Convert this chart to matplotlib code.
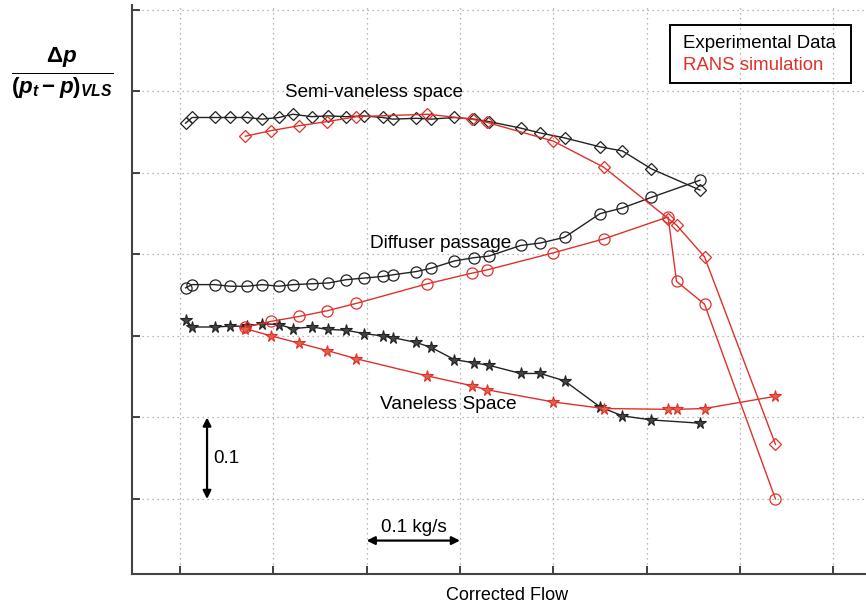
import matplotlib
matplotlib.use("Agg")
import matplotlib.pyplot as plt
from matplotlib.patches import Rectangle

# ---------------- data ----------------
exp_flow = [0.006, 0.013, 0.037, 0.054, 0.072, 0.088, 0.106, 0.121, 0.141, 0.159,
            0.178, 0.197, 0.217, 0.228, 0.253, 0.269, 0.294, 0.315, 0.331, 0.365,
            0.386, 0.412, 0.450, 0.474, 0.505, 0.557]
exp_semi = [0.461, 0.468, 0.468, 0.468, 0.468, 0.466, 0.468, 0.472, 0.469, 0.470,
            0.469, 0.470, 0.468, 0.466, 0.467, 0.466, 0.468, 0.466, 0.463, 0.455,
            0.449, 0.443, 0.432, 0.427, 0.405, 0.379]
exp_diff = [0.259, 0.263, 0.263, 0.261, 0.261, 0.263, 0.261, 0.263, 0.264, 0.265,
            0.269, 0.271, 0.273, 0.275, 0.279, 0.283, 0.292, 0.296, 0.298, 0.311,
            0.314, 0.321, 0.350, 0.357, 0.370, 0.391]
exp_vls = [0.220, 0.211, 0.211, 0.212, 0.212, 0.215, 0.214, 0.209, 0.211, 0.208,
           0.207, 0.203, 0.200, 0.198, 0.192, 0.186, 0.171, 0.167, 0.164, 0.154,
           0.154, 0.145, 0.113, 0.102, 0.097, 0.093]

rans_flow = [0.070, 0.098, 0.128, 0.158, 0.189, 0.265, 0.3125, 0.329, 0.400, 0.454,
             0.523, 0.532, 0.562, 0.638]
rans_semi = [0.445, 0.452, 0.458, 0.463, 0.469, 0.472, 0.466, 0.462, 0.439, 0.407,
             0.344, 0.336, 0.297, 0.067]
rans_diff = [0.211, 0.218, 0.224, 0.231, 0.240, 0.264, 0.277, 0.281, 0.302, 0.319,
             0.346, 0.267, 0.239, 0.000]
rans_vls = [0.209, 0.200, 0.191, 0.182, 0.172, 0.151, 0.139, 0.134, 0.119, 0.111,
            0.110, 0.110, 0.111, 0.126]

xticks = [0.0, 0.1, 0.2, 0.3, 0.4, 0.5, 0.6, 0.7]
yticks = [0.0, 0.1, 0.2, 0.3, 0.4, 0.5, 0.6]

# ---------------- style ----------------
plt.rcParams['font.family'] = ['Liberation Sans', 'DejaVu Sans']
plt.rcParams['mathtext.fontset'] = 'custom'
plt.rcParams['mathtext.it'] = 'Liberation Sans:italic:bold'
plt.rcParams['mathtext.rm'] = 'Liberation Sans:bold'
plt.rcParams['mathtext.bf'] = 'Liberation Sans:bold'

BLACK = '#222222'
RED = '#e0302a'

fig = plt.figure(figsize=(8.66, 6.08), dpi=100)
ax = fig.add_axes([132/866, 1-574/608, 1-132/866, (574-5)/608])

ax.set_xlim(-0.0514, 0.735)
ax.set_ylim(-0.092, 0.606)

lw = 1.0
kw_black = dict(color=BLACK, lw=lw, markerfacecolor='none', markeredgecolor=BLACK, markeredgewidth=0.9)
kw_red = dict(color=RED, lw=lw, markerfacecolor='none', markeredgecolor=RED, markeredgewidth=0.9)

ax.plot(exp_flow, exp_semi, marker='D', markersize=6.5, **kw_black, zorder=3)
ax.plot(exp_flow, exp_diff, marker='o', markersize=8, **kw_black, zorder=3)
ax.plot(exp_flow, exp_vls, marker='*', markersize=8.5, color=BLACK, lw=lw,
        markerfacecolor='#444444', markeredgecolor=BLACK, markeredgewidth=0.8, zorder=3)

ax.plot(rans_flow, rans_semi, marker='D', markersize=6.5, **kw_red, zorder=4)
ax.plot(rans_flow, rans_diff, marker='o', markersize=8, **kw_red, zorder=4)
ax.plot(rans_flow, rans_vls, marker='*', markersize=8.5, color=RED, lw=lw,
        markerfacecolor='#e8604a', markeredgecolor=RED, markeredgewidth=0.8, zorder=4)

ax.set_xticks(xticks)
ax.set_yticks(yticks)
ax.set_xticklabels([])
ax.set_yticklabels([])
ax.tick_params(direction='in', length=6, width=1.2, color=BLACK)
ax.grid(True, linestyle=(0, (1, 3)), color='#a0a0a0', lw=0.9)
ax.set_axisbelow(True)
for s in ['top', 'right']:
    ax.spines[s].set_visible(False)
for s in ['left', 'bottom']:
    ax.spines[s].set_color('#444444')
    ax.spines[s].set_linewidth(1.5)

# ---------------- labels ----------------
ax.text(0.112, 0.499, 'Semi-vaneless space', fontsize=13.5, ha='left', va='center', color='black')
ax.text(0.204, 0.313, 'Diffuser passage', fontsize=13.7, ha='left', va='center', color='black')
ax.text(0.214, 0.116, 'Vaneless Space', fontsize=13.8, ha='left', va='center', color='black')

# scale arrows
ax.annotate('', xy=(0.029, 0.0), xytext=(0.029, 0.1),
            arrowprops=dict(arrowstyle='<|-|>', color='black', lw=1.6, mutation_scale=12,
                            shrinkA=0, shrinkB=0))
ax.text(0.036, 0.05, '0.1', fontsize=13.5, ha='left', va='center')
ax.annotate('', xy=(0.2, -0.051), xytext=(0.3, -0.051),
            arrowprops=dict(arrowstyle='<|-|>', color='black', lw=1.6, mutation_scale=12,
                            shrinkA=0, shrinkB=0))
ax.text(0.2505, -0.035, '0.1 kg/s', fontsize=13.6, ha='center', va='center')

# legend box
fig.patches.append(Rectangle((670/866, 1-83/608), (851-670)/866, (83-25)/608,
                             transform=fig.transFigure, fill=False, edgecolor='black', lw=1.4))
fig.text(683/866, 1-43/608, 'Experimental Data', fontsize=13.4, color='black', va='center', ha='left')
fig.text(683/866, 1-65/608, 'RANS simulation', fontsize=13.4, color=RED, va='center', ha='left')

# axis labels
fig.text(507/866, 1-595/608, 'Corrected Flow', fontsize=13, ha='center', va='center')
fig.text(62/866, 1-73/608, r'$\frac{\Delta p}{(p_t - p)_{VLS}}$', fontsize=23,
         ha='center', va='center')

fig.savefig('out.png', dpi=100)
